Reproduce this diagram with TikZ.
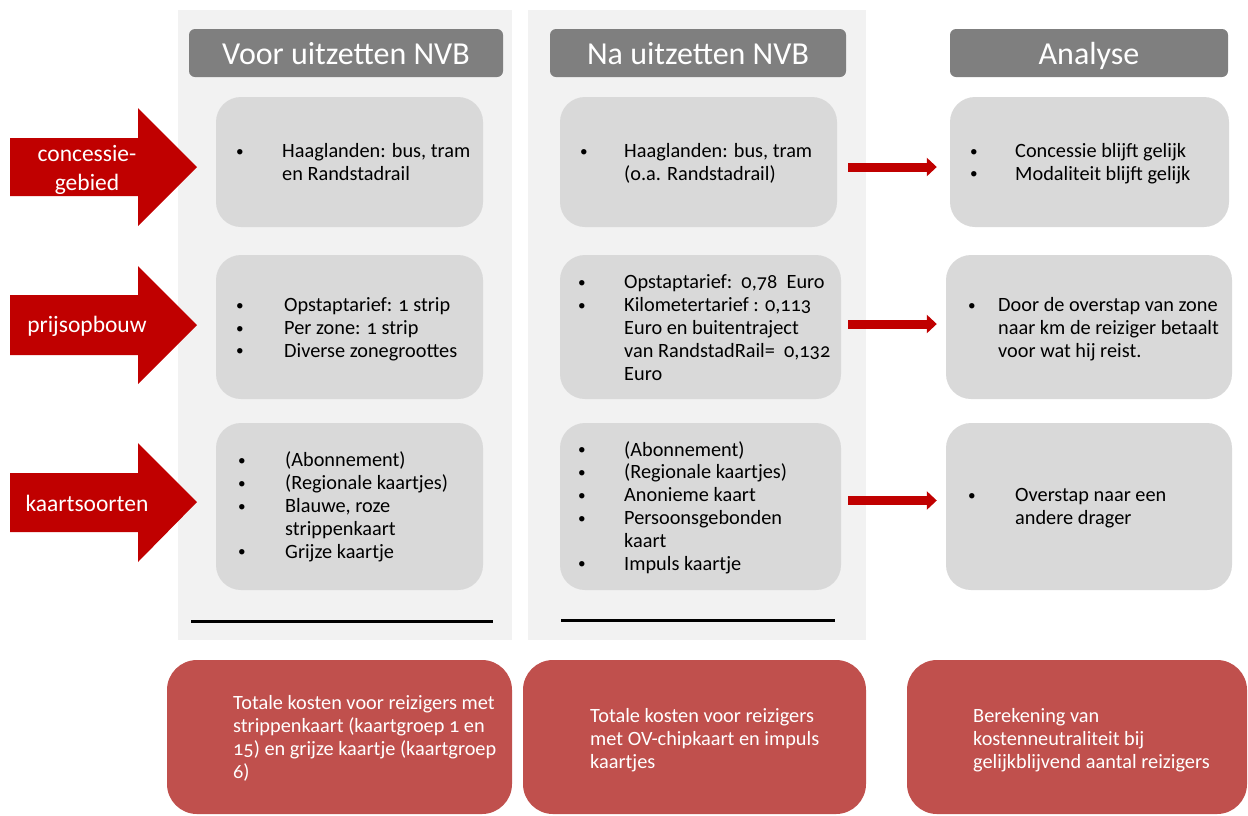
\documentclass[tikz,border=0pt]{standalone}
\usepackage{fontspec}
\setmainfont{Carlito}[Numbers=OldStyle]
\usetikzlibrary{arrows.meta,fit}
\definecolor{colbgc}{HTML}{F2F2F2}
\definecolor{headc}{HTML}{7F7F7F}
\definecolor{boxc}{HTML}{D9D9D9}
\definecolor{arrowc}{HTML}{C00000}
\definecolor{redboxc}{HTML}{C0504D}
\newcommand{\bul}{\raisebox{0.05em}{\scalebox{0.75}{\textbullet}}}
\newcommand{\bi}[2][43pt]{\makebox[#1][l]{\bul}#2}
\newcommand{\ci}[1][43pt]{\hspace*{#1}}
\tikzset{
  colbg/.style={fill=colbgc, inner sep=0pt},
  header/.style={fill=headc, rounded corners=6pt, inner sep=0pt},
  headtext/.style={text=white, font=\fontsize{32}{36}\selectfont, inner sep=0pt, anchor=base},
  gbox/.style={fill=boxc, rounded corners=25pt, inner sep=0pt},
  redbox/.style={fill=redboxc, rounded corners=30pt, inner sep=0pt},
  btext/.style={align=left, inner sep=0pt, text=black, anchor=base west, font=\fontsize{20.3}{22.8}\selectfont},
  rtext/.style={align=left, inner sep=0pt, text=white, anchor=base west, font=\fontsize{20.3}{23}\selectfont},
  atext/.style={align=center, inner sep=0pt, text=white, font=\fontsize{23.5}{29}\selectfont},
  bigarrow/.style={fill=arrowc},
  smallarrow/.style={draw=arrowc, line width=9pt, -{Triangle[length=10pt,width=18pt]}},
  rule/.style={draw=black, line width=3pt}
}
\begin{document}
\begin{tikzpicture}[x=1pt,y=-1pt]
\useasboundingbox (0,0) rectangle (1248,815);

% column backgrounds
\node[colbg, fit={(178,10) (512,640)}] (col1) {};
\node[colbg, fit={(528,10) (866,640)}] (col2) {};

% headers
\node[header, fit={(189,29) (503,77)}] (h1) {};
\node[header, fit={(550,29) (846,77)}] (h2) {};
\node[header, fit={(950,29) (1228,77)}] (h3) {};
\node[headtext] (h1t) at (h1.center |- 0,64) {Voor uitzetten NVB};
\node[headtext] (h2t) at (h2.center |- 0,64) {Na uitzetten NVB};
\node[headtext] (h3t) at (h3.center |- 0,64) {Analyse};

% grey boxes
\node[gbox, fit={(216,97) (483,227)}] (b11) {};
\node[gbox, fit={(560,97) (837,227)}] (b12) {};
\node[gbox, fit={(950,97) (1229,227)}] (b13) {};
\node[gbox, fit={(216,255) (483,399)}] (b21) {};
\node[gbox, fit={(560,255) (841,399)}] (b22) {};
\node[gbox, fit={(946,255) (1232,399)}] (b23) {};
\node[gbox, fit={(216,423) (483,590)}] (b31) {};
\node[gbox, fit={(560,423) (841,590)}] (b32) {};
\node[gbox, fit={(946,423) (1232,590)}] (b33) {};

% texts in grey boxes (anchored at the baseline of the last line)
\node[btext] (t11) at (236,180)
  {\bi[46pt]{Haaglanden: bus, tram}\\\ci[46pt]{}en Randstadrail};
\node[btext] (t12) at (580,180)
  {\bi[44pt]{Haaglanden: bus, tram}\\\ci[44pt]{}(o.a. Randstadrail)};
\node[btext] (t13) at (970,180)
  {\bi[45pt]{Concessie blijft gelijk}\\\bi[45pt]{Modaliteit blijft gelijk}};
\node[btext] (t21) at (236,357)
  {\bi[48pt]{Opstaptarief: 1 strip}\\\bi[48pt]{Per zone: 1 strip}\\\bi[48pt]{Diverse zonegroottes}};
\node[btext] (t22) at (578,380)
  {\bi[46pt]{Opstaptarief:\ \ 0,78\ \ Euro}\\\bi[46pt]{Kilometertarief : 0,113}\\\ci[46pt]{}Euro en buitentraject\\\ci[46pt]{}van RandstadRail=\ \ 0,132\\\ci[46pt]{}Euro};
\node[btext] (t23) at (968,357)
  {\bi[30pt]{Door de overstap van zone}\\\ci[30pt]{}naar km de reiziger betaalt\\\ci[30pt]{}voor wat hij reist.};
\node[btext] (t31) at (238,558)
  {\bi[47pt]{(Abonnement)}\\\bi[47pt]{(Regionale kaartjes)}\\\bi[47pt]{Blauwe, roze}\\\ci[47pt]{}strippenkaart\\\bi[47pt]{Grijze kaartje}};
\node[btext] (t32) at (578,570)
  {\bi[46pt]{(Abonnement)}\\\bi[46pt]{(Regionale kaartjes)}\\\bi[46pt]{Anonieme kaart}\\\bi[46pt]{Persoonsgebonden}\\\ci[46pt]{}kaart\\\bi[46pt]{Impuls kaartje}};
\node[btext] (t33) at (968,524)
  {\bi[47pt]{Overstap naar een}\\\ci[47pt]{}andere drager};

% rules
\coordinate (r1a) at (191,621);
\coordinate (r1b) at (493,621);
\coordinate (r2a) at (561,620);
\coordinate (r2b) at (835,620);
\draw[rule] (r1a) -- (r1b);
\draw[rule] (r2a) -- (r2b);

% bottom red boxes
\node[redbox, fit={(167,660) (512,814)}] (rb1) {};
\node[redbox, fit={(523,660) (866,814)}] (rb2) {};
\node[redbox, fit={(907,660) (1247,814)}] (rb3) {};
\node[rtext] (rt1) at (233,778)
  {Totale kosten voor reizigers met\\strippenkaart (kaartgroep 1 en\\15) en grijze kaartje (kaartgroep\\6)};
\node[rtext] (rt2) at (590,768)
  {Totale kosten voor reizigers\\met OV-chipkaart en impuls\\kaartjes};
\node[rtext] (rt3) at (973,768)
  {Berekening van\\kostenneutraliteit bij\\gelijkblijvend aantal reizigers};

% big left arrows
\fill[bigarrow] (10,138) -- (138,138) -- (138,108) -- (197,167) -- (138,226) -- (138,196) -- (10,196) -- cycle;
\fill[bigarrow] (10,295) -- (138,295) -- (138,266) -- (197,325) -- (138,384) -- (138,355) -- (10,355) -- cycle;
\fill[bigarrow] (10,473) -- (138,473) -- (138,443) -- (197,502) -- (138,562) -- (138,532) -- (10,532) -- cycle;
\node[atext] (a1) at (87,170) {concessie-\\gebied};
\node[atext] (a2) at (87,326) {prijsopbouw};
\node[atext] (a3) at (87,503) {kaartsoorten};

% small arrows
\draw[smallarrow] ([xshift=11pt,yshift=-5pt]b12.east) -- ([xshift=-13pt,yshift=-5pt]b13.west);
\draw[smallarrow] ([xshift=7pt,yshift=3pt]b22.east) -- ([xshift=-9pt,yshift=3pt]b23.west);
\draw[smallarrow] ([xshift=7pt,yshift=6pt]b32.east) -- ([xshift=-9pt,yshift=6pt]b33.west);
\end{tikzpicture}
\end{document}
